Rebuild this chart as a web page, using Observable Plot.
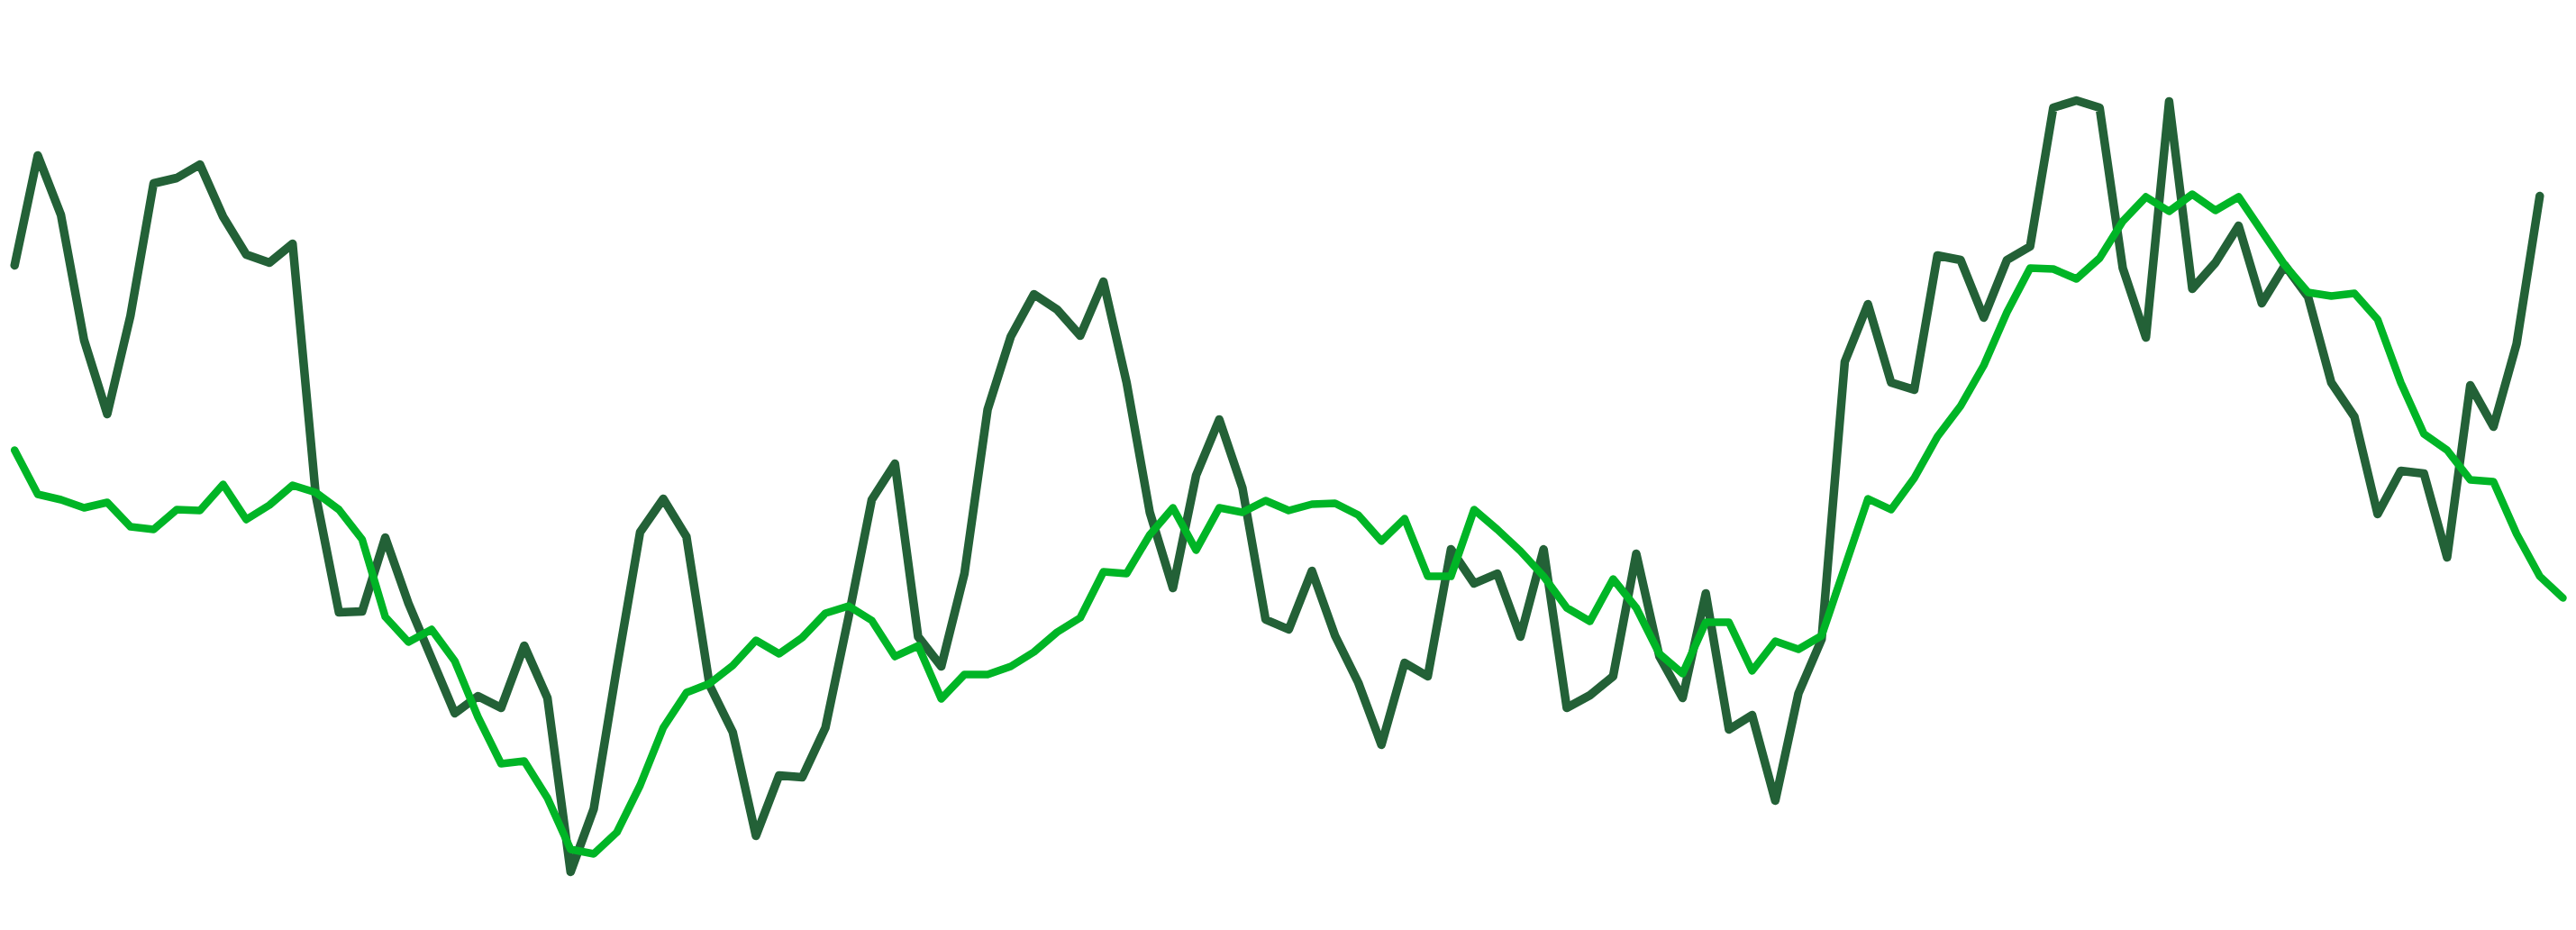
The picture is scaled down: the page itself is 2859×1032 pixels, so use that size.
<!DOCTYPE html>
<html>
<head>
<meta charset="utf-8">
<script src="https://cdn.jsdelivr.net/npm/d3@7"></script>
<script src="https://cdn.jsdelivr.net/npm/@observablehq/plot@0.6"></script>
<style>
  html, body { margin: 0; padding: 0; background: #ffffff; overflow: hidden; }
  #chart svg { display: block; }
</style>
</head>
<body>
<div id="chart"></div>
<script>
// Series values, one per period
const darkSeries = [
  738, 860, 794, 655, 573, 682, 829, 835, 850, 792,
  750, 741, 762, 483, 353, 354, 436, 363, 302, 241,
  260, 247, 316, 258, 65, 135, 292, 442, 479, 437,
  272, 220, 105, 172, 170, 225, 348, 478, 518, 326,
  293, 396, 578, 659, 706, 689, 660, 720, 608, 464,
  380, 505, 567, 491, 345, 334, 399, 327, 275, 206,
  297, 282, 423, 385, 396, 326, 423, 247, 261, 282,
  418, 304, 258, 374, 223, 239, 144, 263, 323, 631,
  695, 608, 600, 749, 744, 680, 744, 759, 913, 921,
  913, 735, 658, 920, 712, 741, 782, 696, 738, 703,
  608, 570, 462, 510, 507, 414, 605, 559, 651, 815
];
const brightSeries = [
  533, 484, 478, 469, 475, 448, 445, 467, 466, 495,
  456, 472, 494, 486, 467, 434, 348, 320, 334, 299,
  237, 185, 188, 147, 90, 85, 109, 161, 225, 264,
  274, 294, 322, 307, 325, 352, 360, 344, 304, 316,
  257, 284, 284, 293, 309, 331, 347, 398, 396, 439,
  469, 422, 469, 464, 477, 466, 473, 474, 461, 432,
  457, 393, 393, 467, 445, 421, 393, 358, 343, 390,
  358, 307, 285, 342, 342, 288, 321, 312, 327, 403,
  479, 467, 502, 548, 582, 627, 686, 735, 734, 723,
  746, 787, 814, 798, 817, 799, 814, 776, 738, 708,
  704, 707, 678, 608, 551, 533, 500, 498, 440, 393,
  369
];
const seriesColors = { dark: "#236137", bright: "#00b526" };

const darkData = darkSeries.map((v, i) => ({ i, v }));
const brightData = brightSeries.map((v, i) => ({ i, v }));

const chart = Plot.plot({
  width: 2859,
  height: 1032,
  marginLeft: 15.7,
  marginRight: 15,
  marginTop: 0,
  marginBottom: 0,
  x: { domain: [0, brightSeries.length - 1], axis: null },
  y: { domain: [0, 1032], axis: null },
  marks: [
    Plot.line(darkData, { x: "i", y: "v", stroke: seriesColors.dark, strokeWidth: 9.5, strokeLinejoin: "round", strokeLinecap: "round" }),
    Plot.line(brightData, { x: "i", y: "v", stroke: seriesColors.bright, strokeWidth: 8.5, strokeLinejoin: "round", strokeLinecap: "round" })
  ]
});
document.getElementById("chart").appendChild(chart);
</script>
</body>
</html>
